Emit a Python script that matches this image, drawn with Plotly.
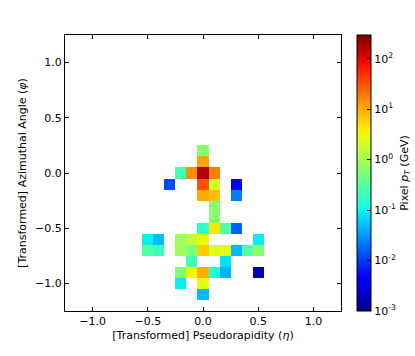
import numpy as np
import plotly.graph_objects as go

# pixel centres (eta, phi) and pixel pT in GeV
eta = [0.0,
       0.0,
       -0.2, -0.1, 0.0, 0.1,
       -0.3, 0.0, 0.1, 0.3,
       0.0, 0.1, 0.3,
       0.1,
       0.1,
       0.0, 0.1, 0.2, 0.3,
       -0.5, -0.4, -0.2, -0.1, 0.0, 0.5,
       -0.5, -0.4, -0.2, -0.1, 0.0, 0.1, 0.2, 0.3, 0.4, 0.5,
       -0.1, 0.2,
       -0.2, -0.1, 0.0, 0.1, 0.2, 0.5,
       -0.2, 0.0,
       0.0]
phi = [0.2,
       0.1,
       0.0, 0.0, 0.0, 0.0,
       -0.1, -0.1, -0.1, -0.1,
       -0.2, -0.2, -0.2,
       -0.3,
       -0.4,
       -0.5, -0.5, -0.5, -0.5,
       -0.6, -0.6, -0.6, -0.6, -0.6, -0.6,
       -0.7, -0.7, -0.7, -0.7, -0.7, -0.7, -0.7, -0.7, -0.7, -0.7,
       -0.8, -0.8,
       -0.9, -0.9, -0.9, -0.9, -0.9, -0.9,
       -1.0, -1.0,
       -1.1]
pt = [0.66,
      10.5,
      0.22, 14.4, 174.0, 17.5,
      0.012, 33.0, 1.9, 0.0046,
      9.8, 7.4, 0.023,
      0.66,
      0.66,
      0.17, 4.3, 0.28, 0.016,
      0.093, 0.05, 0.96, 1.5, 2.8, 0.093,
      0.28, 0.2, 0.96, 0.51, 5.9, 2.5, 2.5, 0.047, 0.28, 0.66,
      0.22, 0.081,
      0.58, 3.2, 9.3, 0.13, 0.044, 0.0017,
      0.093, 2.5,
      0.047]

ZMIN, ZMAX = -3.0, np.log10(295.0)

# grid of pixels, 0.1 wide, empty pixels left transparent
centres = np.round(np.arange(-1.2, 1.2001, 0.1), 1)
grid = np.full((len(centres), len(centres)), np.nan)
for e, p, v in zip(eta, phi, pt):
    i = int(round((p + 1.2) / 0.1))
    j = int(round((e + 1.2) / 0.1))
    grid[i, j] = np.log10(v)

# matplotlib "jet"
seg_r = [(0, 0), (0.35, 0), (0.66, 1), (0.89, 1), (1, 0.5)]
seg_g = [(0, 0), (0.125, 0), (0.375, 1), (0.64, 1), (0.91, 0), (1, 0)]
seg_b = [(0, 0.5), (0.11, 1), (0.34, 1), (0.65, 0), (1, 0)]
ts = np.linspace(0, 1, 41)
def chan(seg):
    return np.interp(ts, [s[0] for s in seg], [s[1] for s in seg])
r, g, b = chan(seg_r), chan(seg_g), chan(seg_b)
jet = [[float(t), "rgb(%d,%d,%d)" % (255 * rr, 255 * gg, 255 * bb)]
       for t, rr, gg, bb in zip(ts, r, g, b)]

fig = go.Figure(go.Heatmap(
    x=centres, y=centres, z=grid,
    colorscale=jet, zmin=ZMIN, zmax=ZMAX,
    hoverongaps=False,
    colorbar=dict(
        thickness=14, len=1, lenmode="fraction", y=0.5, yanchor="middle",
        x=1.058, xanchor="left", xpad=0, ypad=0,
        outlinecolor="black", outlinewidth=1,
        tickvals=[-3, -2, -1, 0, 1, 2],
        ticktext=["10<sup>-3</sup>", "10<sup>-2</sup>", "10<sup>-1</sup>",
                  "10<sup>0</sup>", "10<sup>1</sup>", "10<sup>2</sup>"],
        ticks="inside", ticklen=4, tickcolor="black",
        tickfont=dict(size=11, color="black"),
        title=dict(text="Pixel <i>p<sub>T</sub></i> (GeV)", side="right",
                   font=dict(size=11, color="black")),
    ),
))

axis = dict(range=[-1.25, 1.25], tickvals=[-1.0, -0.5, 0.0, 0.5, 1.0],
            ticktext=["\u22121.0", "\u22120.5", "0.0", "0.5", "1.0"],
            showline=True, linecolor="black", linewidth=1, mirror="ticks",
            ticks="inside", ticklen=4, tickcolor="black",
            showgrid=False, zeroline=False,
            tickfont=dict(size=11, color="black"))

fig.update_layout(
    width=415, height=356,
    margin=dict(l=65, r=74, t=35, b=45, autoexpand=False),
    paper_bgcolor="white", plot_bgcolor="white",
    font=dict(family="DejaVu Sans", size=11, color="black"),
    xaxis=dict(axis, title=dict(text="[Transformed] Pseudorapidity (<i>\u03b7</i>)",
                                font=dict(size=11), standoff=4)),
    yaxis=dict(axis, title=dict(text="[Transformed] Azimuthal Angle (<i>\u03c6</i>)",
                                font=dict(size=11), standoff=6)),
)

fig.write_html("out.html", config={"displayModeBar": False},
               post_script="document.body.style.margin='0';")
